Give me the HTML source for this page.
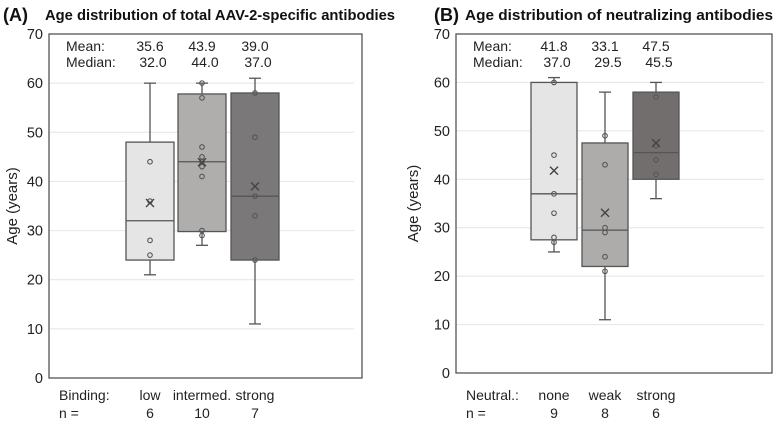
<!DOCTYPE html>
<html><head><meta charset="utf-8"><style>
html,body{margin:0;padding:0;background:#fff;width:783px;height:428px;overflow:hidden}
svg{display:block;font-family:"Liberation Sans",sans-serif}
</style></head><body>
<svg id="chart" width="783" height="428"></svg>
<script>
// Panel A data
const catsA = ["low","intermed.","strong"];
const nA = ["6","10","7"];
const meanA = [35.6,43.9,39.0];
const medianA = [32.0,44.0,37.0];
const q1A = [24,29.8,24];
const q3A = [48,57.8,58];
const wlowA = [21,27,11];
const whighA = [60,60,61];
const ptsA = [[44,36,28,25],[60,57,47,45,44,43,41,30,29],[58,49,37,33,24]];
// Panel B data
const catsB = ["none","weak","strong"];
const nB = ["9","8","6"];
const meanB = [41.8,33.1,47.5];
const medianB = [37.0,29.5,45.5];
const q1B = [27.5,22,40];
const q3B = [60,47.5,58];
const wlowB = [25,11,36];
const whighB = [61,58,60];
const ptsB = [[60,45,37,33,28,27],[49,43,30,29,24,21],[57,47,44,41]];
const yTicks = [0,10,20,30,40,50,60,70];

const NS="http://www.w3.org/2000/svg";
const svg=document.getElementById('chart');
function mk(tag,attrs,parent){const e=document.createElementNS(NS,tag);for(const k in attrs)e.setAttribute(k,attrs[k]);(parent||svg).appendChild(e);return e;}

function panel(p){
  const g=mk('g',{});
  
  
  const y=v=>p.bottom-(v/70)*(p.bottom-p.top);
  yTicks.forEach(t=>{
    if(t>0&&t<70){const l=mk('line',{x1:p.left,x2:p.right-8,y1:y(t),y2:y(t),stroke:'#e4e4e4','stroke-width':1},g);
      
      }
    const tx=mk('text',{x:p.left-6,y:y(t)+5,'text-anchor':'end','font-size':14.5,fill:'#222'},g);
    tx.textContent=t;
    
    
  });
  const fr=mk('rect',{x:p.left,y:p.top,width:p.right-p.left,height:p.bottom-p.top,fill:'none',stroke:'#555','stroke-width':1.3},g);
  
  
  const yt=mk('text',{transform:`translate(${p.ylx},${(p.top+p.bottom)/2}) rotate(-90)`,'text-anchor':'middle','font-size':15,fill:'#222'},g);
  yt.textContent='Age (years)';
  
  
  const pl=mk('text',{x:p.tx,y:21,'font-size':18,'font-weight':'bold',fill:'#111'},g);
  pl.textContent=p.letter;
  
  
  const ti=mk('text',{x:p.tx2,y:20,'font-size':14.5,'font-weight':'bold',fill:'#111',textLength:p.tlen,lengthAdjust:'spacingAndGlyphs'},g);
  ti.textContent=p.title;
  
  
  const lab=(txt,x,yy,anchor,name)=>{const t=mk('text',{x:x,y:yy,'text-anchor':anchor,'font-size':14,fill:'#222'},g);t.textContent=txt;
    
    return t;};
  lab('Mean:',p.left+17,51,'start','mean-label');
  lab('Median:',p.left+17,67,'start','median-label');
  lab(p.xlab,p.left+10,400,'start','x-group-label');
  lab('n =',p.left+10,418,'start','n-label');
  p.cats.forEach((c,i)=>{
    const cx=p.cx[i], hw=p.hw;
    lab(p.mean[i].toFixed(1),cx,51,'middle','mean-value');
    lab(p.median[i].toFixed(1),cx+3,67,'middle','median-value');
    lab(c,cx,400,'middle','category-label');
    lab(p.n[i],cx,418,'middle','n-value');
    const bg=mk('g',{},g);
    
    
    const st={stroke:'#555','stroke-width':1.3};
    mk('line',Object.assign({x1:cx,x2:cx,y1:y(p.wlow[i]),y2:y(p.q1[i])},st),bg);
    mk('line',Object.assign({x1:cx,x2:cx,y1:y(p.whigh[i]),y2:y(p.q3[i])},st),bg);
    mk('line',Object.assign({x1:cx-6,x2:cx+6,y1:y(p.wlow[i]),y2:y(p.wlow[i])},st),bg);
    mk('line',Object.assign({x1:cx-6,x2:cx+6,y1:y(p.whigh[i]),y2:y(p.whigh[i])},st),bg);
    mk('rect',Object.assign({x:cx-hw,width:2*hw,y:y(p.q3[i]),height:y(p.q1[i])-y(p.q3[i]),fill:p.colors[i]},st),bg);
    mk('line',Object.assign({x1:cx-hw,x2:cx+hw,y1:y(p.median[i]),y2:y(p.median[i])},st),bg);
    p.pts[i].forEach(v=>{const c2=mk('circle',{cx:cx,cy:y(v),r:2.3,fill:'none',stroke:'#555','stroke-width':1.1},bg);
      
      });
    const my=y(p.mean[i]);
    mk('path',{d:`M${cx-4},${my-4}L${cx+4},${my+4}M${cx+4},${my-4}L${cx-4},${my+4}`,stroke:'#444','stroke-width':1.4},bg);
  });
}
panel({id:'a',left:49,right:362,top:34,bottom:378,ylx:17,tx:3,tx2:45,tlen:350,letter:'(A)',title:'Age distribution of total AAV-2-specific antibodies',
  xlab:'Binding:',cats:catsA,n:nA,mean:meanA,median:medianA,q1:q1A,q3:q3A,wlow:wlowA,whigh:whighA,pts:ptsA,
  cx:[150,202,255],hw:24,colors:['#e6e5e6','#b0adad','#7a7878']});
panel({id:'b',left:456,right:772,top:34,bottom:373,ylx:418,tx:434,tx2:465,tlen:308,letter:'(B)',title:'Age distribution of neutralizing antibodies',
  xlab:'Neutral.:',cats:catsB,n:nB,mean:meanB,median:medianB,q1:q1B,q3:q3B,wlow:wlowB,whigh:whighB,pts:ptsB,
  cx:[554,605,656],hw:23,colors:['#e6e5e6','#aeabab','#726e6e']});
</script>
</body></html>
